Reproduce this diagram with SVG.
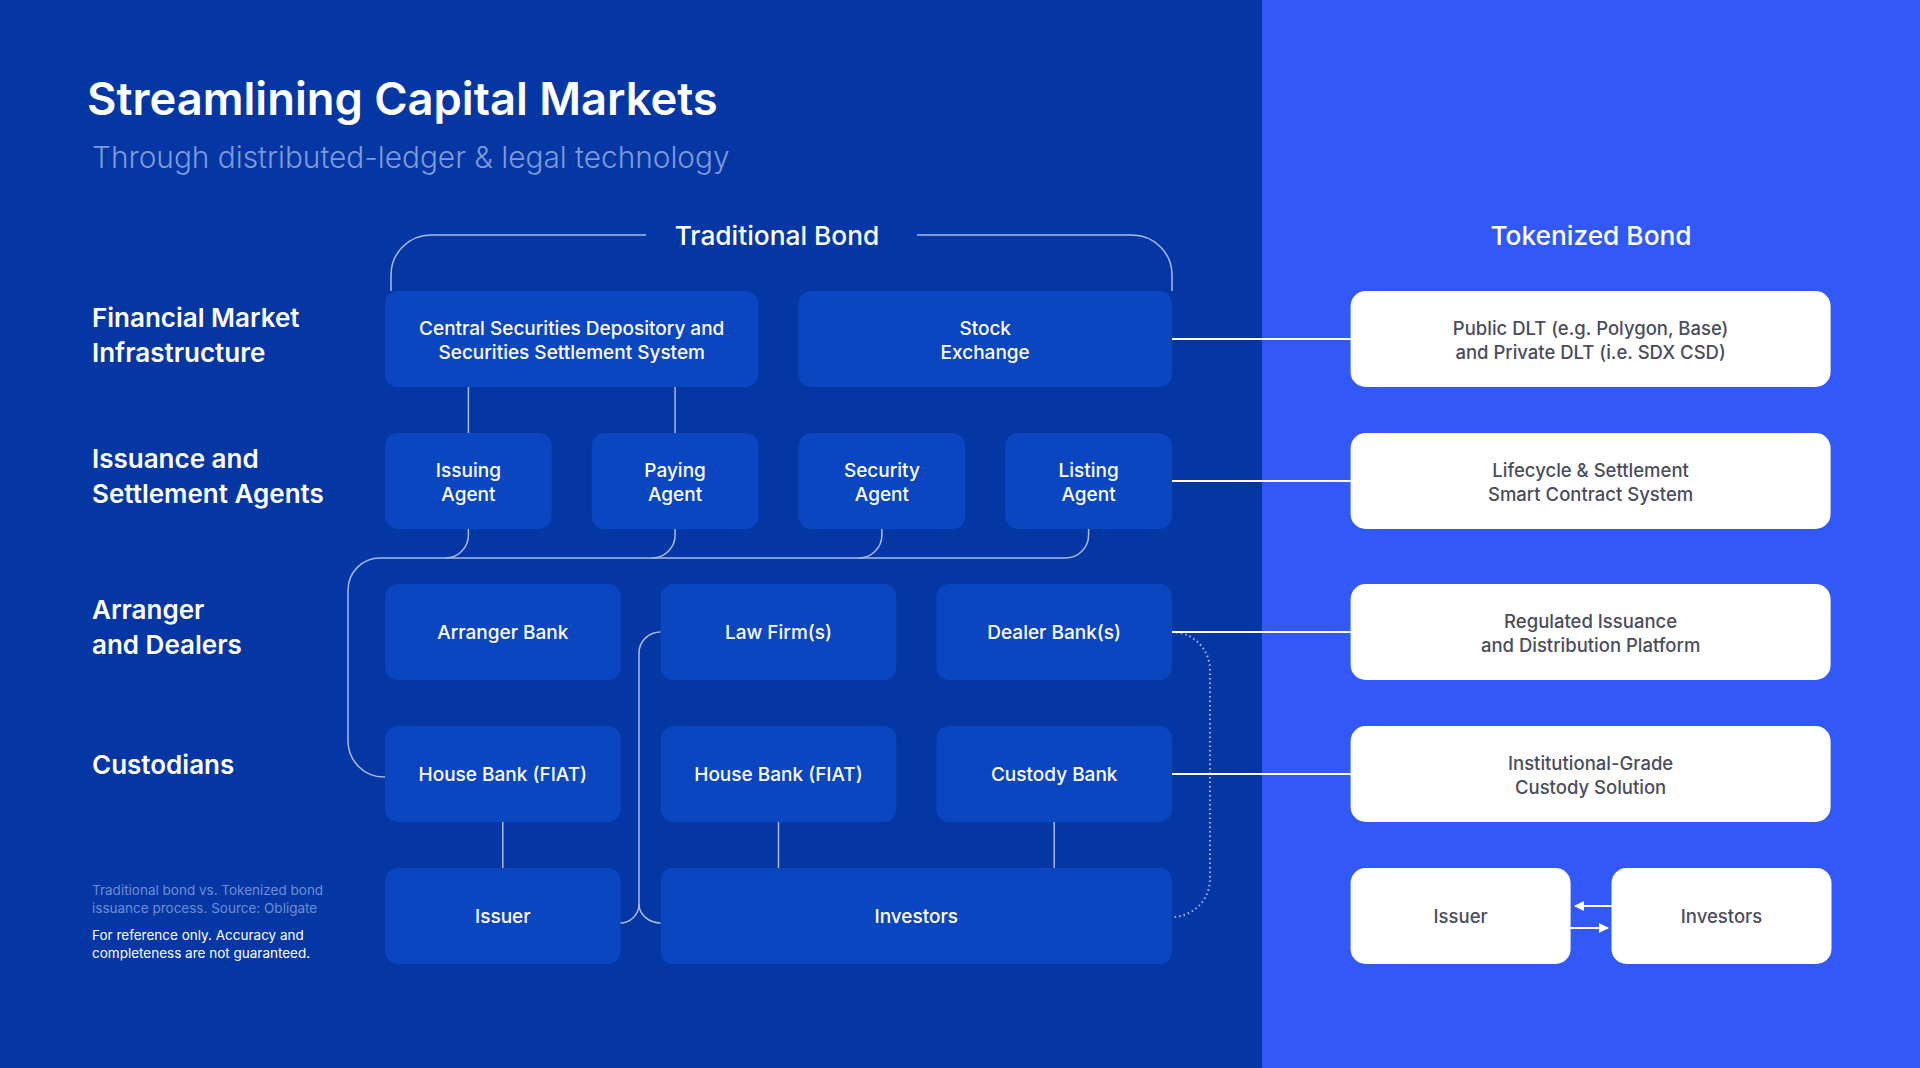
<svg xmlns="http://www.w3.org/2000/svg" width="1920" height="1068" viewBox="0 0 1920 1068">
<defs>
<style>
text{font-family:Inter,"Noto Sans","Liberation Sans",sans-serif;}
.box{fill:#0A46C0;}
.tbox{fill:#FFFFFF;}
.bt{fill:#FFFFFF;font-size:19px;font-weight:500;text-anchor:middle;}
.tt{fill:#4A4D5C;font-size:18.5px;font-weight:500;text-anchor:middle;}
.lbl{fill:#FFFFFF;font-size:26px;font-weight:600;}
.hdr{fill:#FFFFFF;font-size:26.3px;font-weight:500;text-anchor:middle;}
.ln{fill:none;stroke:#A9BBE8;stroke-width:1.5;}
.wl{fill:none;stroke:#FFFFFF;stroke-width:2;}
.dot{fill:none;stroke:#A9BBE8;stroke-width:2;stroke-dasharray:1.5 3;}
.foot1{fill:#6F8DD6;font-size:13.5px;}
.foot2{fill:#FFFFFF;font-size:13.5px;}
</style>
<marker id="ah" viewBox="0 0 10 10" refX="9" refY="5" markerWidth="10" markerHeight="10" markerUnits="userSpaceOnUse" orient="auto">
<path d="M0,0 L10,5 L0,10 Z" fill="#FFFFFF"/>
</marker>
</defs>
<rect x="0" y="0" width="1262" height="1068" fill="#0437A3"/>
<rect x="1262" y="0" width="658" height="1068" fill="#3259F7"/>

<text x="87" y="115" fill="#FFFFFF" font-size="45.3" font-weight="600">Streamlining Capital Markets</text>
<text x="92" y="168" fill="#7E9AD9" font-size="29.8" font-weight="300">Through distributed-ledger &amp; legal technology</text>

<text class="hdr" x="777" y="245">Traditional Bond</text>
<text class="hdr" x="1591" y="245">Tokenized Bond</text>

<text class="lbl" x="92" y="327">Financial Market</text>
<text class="lbl" x="92" y="362">Infrastructure</text>
<text class="lbl" x="92" y="468">Issuance and</text>
<text class="lbl" x="92" y="503">Settlement Agents</text>
<text class="lbl" x="92" y="619">Arranger</text>
<text class="lbl" x="92" y="654">and Dealers</text>
<text class="lbl" x="92" y="774">Custodians</text>

<text class="foot1" x="92" y="895">Traditional bond vs. Tokenized bond</text>
<text class="foot1" x="92" y="913">issuance process. Source: Obligate</text>
<text class="foot2" x="92" y="940">For reference only. Accuracy and</text>
<text class="foot2" x="92" y="958">completeness are not guaranteed.</text>

<g id="connectors">
<path class="ln" d="M391,291 V275 A40,40 0 0 1 431,235 H646"/>
<path class="ln" d="M917,235 H1132 A40,40 0 0 1 1172,275 V291"/>
<path class="ln" d="M468.4,387 V433"/>
<path class="ln" d="M675.1,387 V433"/>
<path class="ln" d="M1088.6,529 V535 A23,23 0 0 1 1065.6,558 H380 A32,32 0 0 0 348,590 V741 A36,36 0 0 0 384,777 H385"/>
<path class="ln" d="M468.4,529 V535 A23,23 0 0 1 445.4,558"/>
<path class="ln" d="M675.1,529 V535 A23,23 0 0 1 652.1,558"/>
<path class="ln" d="M881.9,529 V535 A23,23 0 0 1 858.9,558"/>
<path class="ln" d="M660.7,632 A21.7,21 0 0 0 639,653 V904 A19,19 0 0 1 620,923"/>
<path class="ln" d="M639,904 A21.7,19 0 0 0 660.7,923"/>
<path class="ln" d="M502.8,822 V868"/>
<path class="ln" d="M778.5,822 V868"/>
<path class="ln" d="M1054.2,822 V868"/>
<path class="dot" d="M1172,632 A38,38 0 0 1 1210,670 V879 A38,38 0 0 1 1172,917"/>
<path class="wl" d="M1172,339 H1350.6"/>
<path class="wl" d="M1172,481 H1350.6"/>
<path class="wl" d="M1172,632 H1350.6"/>
<path class="wl" d="M1172,774 H1350.6"/>
<path class="wl" d="M1611.5,906 H1575" marker-end="url(#ah)"/>
<path class="wl" d="M1570.6,928 H1608" marker-end="url(#ah)"/>
</g>

<g id="csd"><rect class="box" x="385" y="291" width="373.5" height="96" rx="13"/><text class="bt" x="571.7" y="335">Central Securities Depository and</text><text class="bt" x="571.7" y="358.5">Securities Settlement System</text></g>
<g id="stock-exchange"><rect class="box" x="798.5" y="291" width="373.5" height="96" rx="13"/><text class="bt" x="985.2" y="335">Stock</text><text class="bt" x="985.2" y="358.5">Exchange</text></g>

<g id="issuing-agent"><rect class="box" x="385" y="433" width="166.75" height="96" rx="13"/><text class="bt" x="468.4" y="477">Issuing</text><text class="bt" x="468.4" y="500.5">Agent</text></g>
<g id="paying-agent"><rect class="box" x="591.75" y="433" width="166.75" height="96" rx="13"/><text class="bt" x="675.1" y="477">Paying</text><text class="bt" x="675.1" y="500.5">Agent</text></g>
<g id="security-agent"><rect class="box" x="798.5" y="433" width="166.75" height="96" rx="13"/><text class="bt" x="881.9" y="477">Security</text><text class="bt" x="881.9" y="500.5">Agent</text></g>
<g id="listing-agent"><rect class="box" x="1005.25" y="433" width="166.75" height="96" rx="13"/><text class="bt" x="1088.6" y="477">Listing</text><text class="bt" x="1088.6" y="500.5">Agent</text></g>

<g id="arranger-bank"><rect class="box" x="385" y="584" width="235.67" height="96" rx="13"/><text class="bt" x="502.8" y="639">Arranger Bank</text></g>
<g id="law-firms"><rect class="box" x="660.67" y="584" width="235.67" height="96" rx="13"/><text class="bt" x="778.5" y="639">Law Firm(s)</text></g>
<g id="dealer-banks"><rect class="box" x="936.33" y="584" width="235.67" height="96" rx="13"/><text class="bt" x="1054.2" y="639">Dealer Bank(s)</text></g>

<g id="house-bank-1"><rect class="box" x="385" y="726" width="235.67" height="96" rx="13"/><text class="bt" x="502.8" y="781">House Bank (FIAT)</text></g>
<g id="house-bank-2"><rect class="box" x="660.67" y="726" width="235.67" height="96" rx="13"/><text class="bt" x="778.5" y="781">House Bank (FIAT)</text></g>
<g id="custody-bank"><rect class="box" x="936.33" y="726" width="235.67" height="96" rx="13"/><text class="bt" x="1054.2" y="781">Custody Bank</text></g>

<g id="issuer"><rect class="box" x="385" y="868" width="235.67" height="96" rx="13"/><text class="bt" x="502.8" y="923">Issuer</text></g>
<g id="investors"><rect class="box" x="660.67" y="868" width="511.33" height="96" rx="13"/><text class="bt" x="916.3" y="923">Investors</text></g>

<g id="public-dlt"><rect class="tbox" x="1350.6" y="291" width="480" height="96" rx="15"/><text class="tt" x="1590.6" y="335">Public DLT (e.g. Polygon, Base)</text><text class="tt" x="1590.6" y="359">and Private DLT (i.e. SDX CSD)</text></g>
<g id="smart-contract"><rect class="tbox" x="1350.6" y="433" width="480" height="96" rx="15"/><text class="tt" x="1590.6" y="477">Lifecycle &amp; Settlement</text><text class="tt" x="1590.6" y="501">Smart Contract System</text></g>
<g id="distribution-platform"><rect class="tbox" x="1350.6" y="584" width="480" height="96" rx="15"/><text class="tt" x="1590.6" y="628">Regulated Issuance</text><text class="tt" x="1590.6" y="652">and Distribution Platform</text></g>
<g id="custody-solution"><rect class="tbox" x="1350.6" y="726" width="480" height="96" rx="15"/><text class="tt" x="1590.6" y="770">Institutional-Grade</text><text class="tt" x="1590.6" y="794">Custody Solution</text></g>
<g id="t-issuer"><rect class="tbox" x="1350.6" y="868" width="220" height="96" rx="15"/><text class="tt" x="1460.6" y="923">Issuer</text></g>
<g id="t-investors"><rect class="tbox" x="1611.5" y="868" width="220" height="96" rx="15"/><text class="tt" x="1721.5" y="923">Investors</text></g>
</svg>
